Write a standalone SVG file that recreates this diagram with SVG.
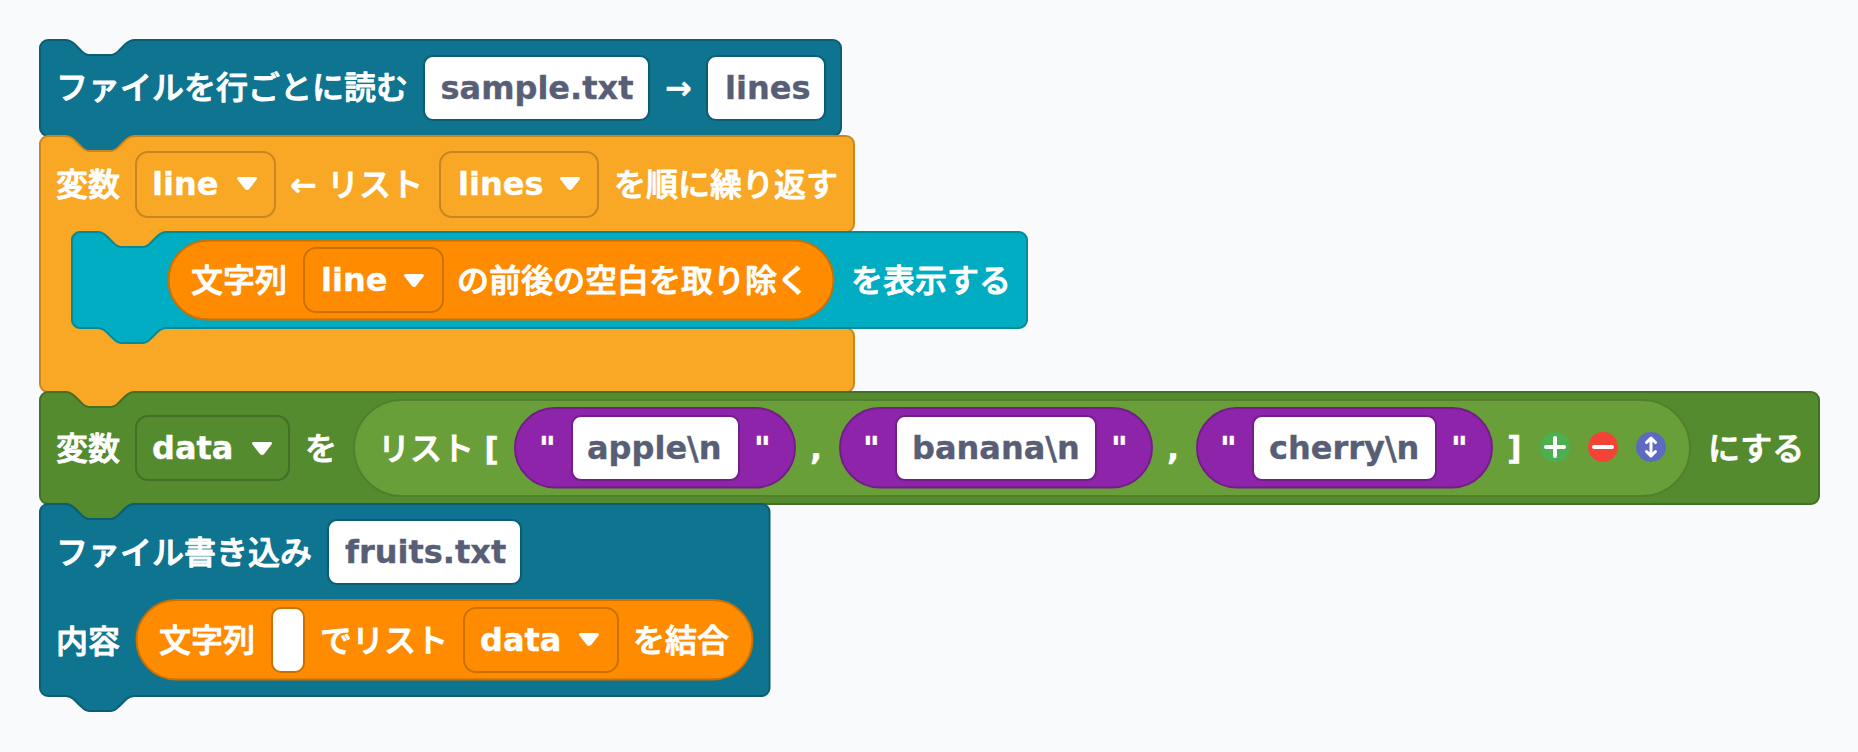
<svg xmlns="http://www.w3.org/2000/svg" width="1858" height="752" viewBox="0 0 1858 752">
<style>
text{font-family:"DejaVu Sans","Noto Sans CJK JP",sans-serif;font-size:32px;font-weight:500;fill:#fff;stroke:#fff;stroke-width:.9;stroke-linejoin:round}
text.f{fill:#575e75;font-weight:700;stroke:#575e75;stroke-width:.35}
.l{font-weight:700;stroke:#fff;stroke-width:.35}
rect,path.b{stroke-width:2}
.teal{fill:#0e7490;stroke:#0b5d73}
.amber{fill:#f9a825;stroke:#c7861e}
.cyan{fill:#00acc1;stroke:#008a9a}
.green{fill:#558b2f;stroke:#446f26}
.lgreen{fill:#689f38;stroke:#537f2d}
.dor{fill:#ff8c00;stroke:#cc7000}
.pur{fill:#8e24aa;stroke:#721d88}
.tri{fill:#fff}
</style>
<defs>
<path id="tri" class="tri" d="M-8,-6.500 H8 Q11,-6.500 9.500,-4 L2.500,5 Q0,8 -2.500,5 L-9.500,-4 Q-11,-6.500 -8,-6.500 Z"/>
</defs>
<rect width="1858" height="752" fill="#f8fafc"/>
<g id="block-read">
<path class="b teal" d="M40,48 a8,8 0 0 1 8,-8 H65 c4,0 7,1.5 10,4.5 l5,5 c3,3 5,5.500 9,5.500 h22 c4,0 6,-2.500 9,-5.500 l5,-5 c3,-3 6,-4.500 10,-4.500 H833 a8,8 0 0 1 8,8 V128 a8,8 0 0 1 -8,8 H135 c-4,0 -7,1.500 -10,4.500 l-5,5 c-3,3 -5,5.500 -9,5.500 h-22 c-4,0 -6,-2.500 -9,-5.500 l-5,-5 c-3,-3 -6,-4.500 -10,-4.500 H48 a8,8 0 0 1 -8,-8 Z"/>
<text x="56" y="99">ファイルを行ごとに読む</text>
<rect class="teal" style="fill:#fff" x="424" y="56" width="225" height="64" rx="9"/>
<text class="f" x="440.500" y="99">sample.txt</text>
<text class="l" x="665" y="99">→</text>
<rect class="teal" style="fill:#fff" x="707" y="56" width="118" height="64" rx="9"/>
<text class="f" x="725" y="99">lines</text>
</g>
<g id="block-loop">
<path class="b amber" d="M40,144 a8,8 0 0 1 8,-8 H65 c4,0 7,1.500 10,4.500 l5,5 c3,3 5,5.500 9,5.500 h22 c4,0 6,-2.500 9,-5.500 l5,-5 c3,-3 6,-4.500 10,-4.500 H846 a8,8 0 0 1 8,8 V224 a8,8 0 0 1 -8,8 H167 c-4,0 -7,1.500 -10,4.500 l-5,5 c-3,3 -5,5.500 -9,5.500 h-22 c-4,0 -6,-2.500 -9,-5.500 l-5,-5 c-3,-3 -6,-4.500 -10,-4.500 H80 a8,8 0 0 0 -8,8 V320 a8,8 0 0 0 8,8 H846 a8,8 0 0 1 8,8 V384 a8,8 0 0 1 -8,8 H135 c-4,0 -7,1.500 -10,4.500 l-5,5 c-3,3 -5,5.500 -9,5.500 h-22 c-4,0 -6,-2.500 -9,-5.500 l-5,-5 c-3,-3 -6,-4.500 -10,-4.500 H48 a8,8 0 0 1 -8,-8 Z"/>
<text x="56" y="196">変数</text>
<rect class="amber" x="136" y="152" width="139" height="65" rx="12"/>
<text class="l" x="152" y="195">line</text>
<use href="#tri" x="247" y="183.500"/>
<text x="290" y="196"><tspan class="l">←</tspan> リスト</text>
<rect class="amber" x="440" y="152" width="158" height="65" rx="12"/>
<text class="l" x="458" y="195">lines</text>
<use href="#tri" x="570" y="183.500"/>
<text x="614" y="196">を順に繰り返す</text>
</g>
<g id="block-print">
<path class="b cyan" d="M72,240 a8,8 0 0 1 8,-8 H97 c4,0 7,1.500 10,4.500 l5,5 c3,3 5,5.500 9,5.500 h22 c4,0 6,-2.500 9,-5.500 l5,-5 c3,-3 6,-4.500 10,-4.500 H1019 a8,8 0 0 1 8,8 V320 a8,8 0 0 1 -8,8 H167 c-4,0 -7,1.500 -10,4.500 l-5,5 c-3,3 -5,5.500 -9,5.500 h-22 c-4,0 -6,-2.500 -9,-5.500 l-5,-5 c-3,-3 -6,-4.500 -10,-4.500 H80 a8,8 0 0 1 -8,-8 Z"/>
<rect class="dor" x="168.500" y="240.500" width="665" height="79" rx="39.500"/>
<text x="191" y="292">文字列</text>
<rect class="dor" x="304" y="248" width="139" height="64" rx="12"/>
<text class="l" x="321" y="291">line</text>
<use href="#tri" x="414" y="280.500"/>
<text x="457" y="292">の前後の空白を取り除く</text>
<text x="851" y="292">を表示する</text>
</g>
<g id="block-data">
<path class="b green" d="M40,400 a8,8 0 0 1 8,-8 H65 c4,0 7,1.500 10,4.500 l5,5 c3,3 5,5.500 9,5.500 h22 c4,0 6,-2.500 9,-5.500 l5,-5 c3,-3 6,-4.500 10,-4.500 H1811 a8,8 0 0 1 8,8 V496 a8,8 0 0 1 -8,8 H135 c-4,0 -7,1.500 -10,4.500 l-5,5 c-3,3 -5,5.500 -9,5.500 h-22 c-4,0 -6,-2.500 -9,-5.500 l-5,-5 c-3,-3 -6,-4.500 -10,-4.500 H48 a8,8 0 0 1 -8,-8 Z"/>
<text x="56" y="460">変数</text>
<rect class="green" x="136" y="416" width="153" height="64" rx="12"/>
<text class="l" x="152" y="459">data</text>
<use href="#tri" x="262" y="448.500"/>
<text x="305" y="460">を</text>
<rect class="lgreen" x="354" y="400" width="1336" height="96" rx="48"/>
<text x="378" y="460">リスト <tspan class="l">[</tspan></text>
<rect class="pur" x="515" y="408" width="280" height="79.500" rx="39.700"/>
<text class="l" x="539" y="459">"</text>
<rect class="pur" style="fill:#fff" x="572" y="416" width="167" height="64" rx="9"/>
<text class="f" x="587" y="459">apple\n</text>
<text class="l" x="754" y="459">"</text>
<text class="l" x="810" y="459">,</text>
<rect class="pur" x="840" y="408" width="312" height="79.500" rx="39.700"/>
<text class="l" x="863" y="459">"</text>
<rect class="pur" style="fill:#fff" x="896" y="416" width="200" height="64" rx="9"/>
<text class="f" x="912" y="459">banana\n</text>
<text class="l" x="1111" y="459">"</text>
<text class="l" x="1167" y="459">,</text>
<rect class="pur" x="1197" y="408" width="295" height="79.500" rx="39.700"/>
<text class="l" x="1220" y="459">"</text>
<rect class="pur" style="fill:#fff" x="1253" y="416" width="183" height="64" rx="9"/>
<text class="f" x="1269" y="459">cherry\n</text>
<text class="l" x="1451" y="459">"</text>
<text class="l" x="1507" y="459">]</text>
<g id="btn-add"><circle cx="1555" cy="447" r="15" fill="#4caf50"/><path d="M1555,438 V456 M1546,447 H1564" stroke="#fff" stroke-width="4" fill="none" stroke-linecap="round"/></g>
<g id="btn-remove"><circle cx="1603" cy="447" r="15" fill="#f44336"/><path d="M1594,447 H1612" stroke="#fff" stroke-width="4" fill="none" stroke-linecap="round"/></g>
<g id="btn-toggle"><circle cx="1651" cy="447" r="15" fill="#5c6bc0"/><path d="M1651,440 V454 M1646.500,442.500 L1651,438 L1655.500,442.500 M1646.500,451.500 L1651,456 L1655.500,451.500" stroke="#fff" stroke-width="3" fill="none" stroke-linecap="round" stroke-linejoin="round"/></g>
<text x="1708" y="460">にする</text>
</g>
<g id="block-write">
<path class="b teal" d="M40,512 a8,8 0 0 1 8,-8 H65 c4,0 7,1.500 10,4.500 l5,5 c3,3 5,5.500 9,5.500 h22 c4,0 6,-2.500 9,-5.500 l5,-5 c3,-3 6,-4.500 10,-4.500 H761.500 a8,8 0 0 1 8,8 V688 a8,8 0 0 1 -8,8 H135 c-4,0 -7,1.500 -10,4.500 l-5,5 c-3,3 -5,5.500 -9,5.500 h-22 c-4,0 -6,-2.500 -9,-5.500 l-5,-5 c-3,-3 -6,-4.500 -10,-4.500 H48 a8,8 0 0 1 -8,-8 Z"/>
<text x="56" y="564">ファイル書き込み</text>
<rect class="teal" style="fill:#fff" x="328" y="520" width="193" height="64" rx="9"/>
<text class="f" x="345" y="563">fruits.txt</text>
<text x="56" y="653">内容</text>
<rect class="dor" x="136.500" y="600" width="616" height="79.500" rx="39.700"/>
<text x="159" y="652">文字列</text>
<rect class="dor" style="fill:#fff" x="272" y="608" width="32" height="64" rx="9"/>
<text x="320" y="652">でリスト</text>
<rect class="dor" x="464" y="608" width="154" height="64" rx="12"/>
<text class="l" x="480" y="651">data</text>
<use href="#tri" x="589" y="639.500"/>
<text x="633" y="652">を結合</text>
</g>
</svg>
